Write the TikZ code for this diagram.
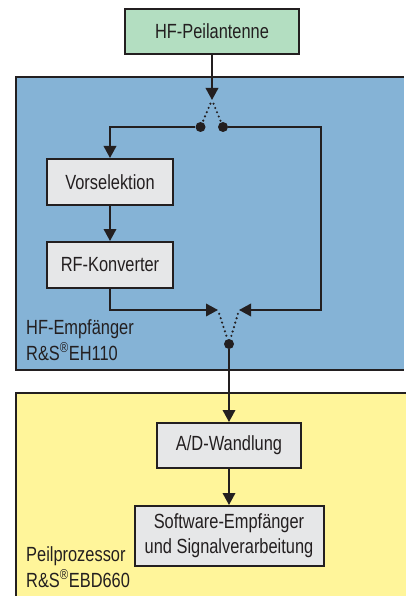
\documentclass[tikz,border=0pt]{standalone}
\usepackage{fontspec}
\setmainfont{Liberation Sans}[FakeStretch=0.8]
\usetikzlibrary{arrows.meta}
\definecolor{hfgreen}{RGB}{179,222,193}
\definecolor{hfblue}{RGB}{133,179,214}
\definecolor{hfyellow}{RGB}{255,245,154}
\definecolor{boxgray}{RGB}{230,231,232}
\definecolor{linegray}{RGB}{35,31,32}

\begin{document}
\begin{tikzpicture}[x=1pt, y=-1pt,
  box/.style={draw=linegray, line width=2pt, fill=boxgray, inner sep=0pt,
              minimum height=45pt, align=center, text=linegray,
              font=\fontsize{20.5}{25}\selectfont},
  flow/.style={draw=linegray, line width=1.9pt, -{Triangle[length=12pt,width=12.5pt]}},
  contact/.style={circle, fill=linegray, inner sep=0pt, minimum size=10pt},
  dots/.style={draw=linegray, line width=2.4pt, line cap=round,
               dash pattern=on 0pt off 4.6pt, shorten <=4pt},
  unitlabel/.style={anchor=north west, align=left, inner sep=0pt, text=linegray,
                    font=\fontsize{20.5}{26}\selectfont},
]
\useasboundingbox (0,0) rectangle (405,596);

% Gehaeuse
\fill[hfblue] (16,77) rectangle (404,370);
\draw[linegray, line width=2pt] (404,77) -- (16,77) -- (16,370) -- (404,370);
\fill[hfyellow] (16,393) rectangle (406,597);
\draw[linegray, line width=2pt] (406,393) -- (16,393) -- (16,597);

% Bloecke
\node[box, fill=hfgreen, minimum width=174pt] (antenne) at (212,31.5) {HF-Peilantenne};
\node[box, minimum width=126pt, minimum height=46pt] (vorsel) at (110,182) {Vorselektion};
\node[box, minimum width=126pt, minimum height=46pt] (rfkonv) at (110,265) {RF-Konverter};
\node[box, minimum width=144pt] (adw) at (229,445.5) {A/D-Wandlung};
\node[box, minimum width=189pt, minimum height=60pt] (software) at (229,536)
  {Software-Empfänger\\und Signalverarbeitung};

\node[unitlabel] (empf) at (26,319) {HF-Empfänger\\R\&S\textsuperscript{®}EH110};
\node[unitlabel] (proz) at (26,546) {Peilprozessor\\R\&S\textsuperscript{®}EBD660};

% Umschalter
\coordinate (swtip) at (212,100);
\node[contact] (swl) at (200.5,127) {};
\node[contact] (swr) at (223,127) {};
\coordinate (mixl) at (218,310);
\coordinate (mixr) at (239,310);
\node[contact] (mix) at (229,344) {};

\draw[flow] (antenne) -- (swtip);
\draw[dots] (swtip) -- (swl);
\draw[dots] (swtip) -- (swr);
\draw[flow] (swl) -| (vorsel);
\draw[flow] (vorsel) -- (rfkonv);
\draw[flow] (rfkonv) |- (mixl);
\draw[flow] (swr) -- ++(98,0) |- (mixr);
\draw[dots] (mixl) -- (mix);
\draw[dots] (mixr) -- (mix);
\draw[flow] (mix) -- (adw);
\draw[flow] (adw) -- (software);
\end{tikzpicture}
\end{document}
